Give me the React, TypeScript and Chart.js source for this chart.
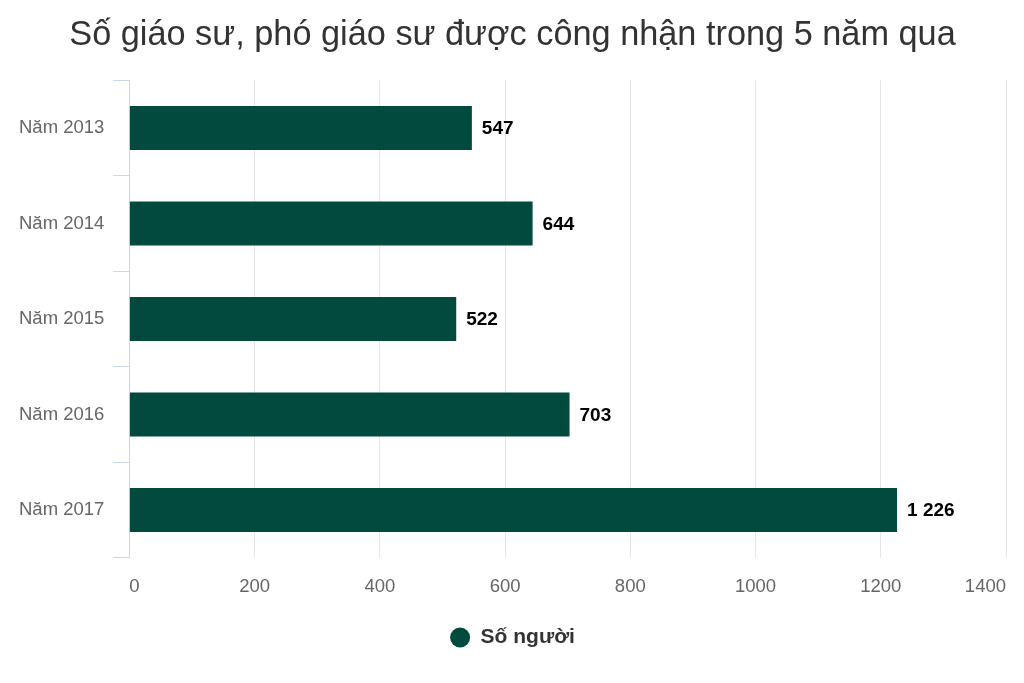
import { useEffect, useRef } from 'react'
import { Chart, registerables } from 'chart.js'

Chart.register(...registerables)

const years = ['Năm 2013', 'Năm 2014', 'Năm 2015', 'Năm 2016', 'Năm 2017']
const counts = [547, 644, 522, 703, 1226]
const seriesName = 'Số người'
const titleText = 'Số giáo sư, phó giáo sư được công nhận trong 5 năm qua'

const FONT = '"Liberation Sans", Arial, Helvetica, sans-serif'
const BAR = '#024a3e'

// space as thousands separator, like "1 226"
const fmt = (v: number) => String(v).replace(/\B(?=(\d{3})+(?!\d))/g, ' ')

const valueLabels = {
  id: 'valueLabels',
  afterDatasetsDraw(chart: Chart) {
    const ctx = chart.ctx
    const meta = chart.getDatasetMeta(0)
    ctx.save()
    ctx.font = `bold 19px ${FONT}`
    ctx.fillStyle = '#000'
    ctx.textAlign = 'left'
    ctx.textBaseline = 'middle'
    meta.data.forEach((bar: any, i: number) => {
      ctx.fillText(fmt(counts[i]), bar.x + 10, bar.y + 1)
    })
    ctx.restore()
  },
}

export default function App() {
  const ref = useRef<HTMLCanvasElement>(null)
  const inst = useRef<Chart | null>(null)

  useEffect(() => {
    if (!ref.current) return
    if (inst.current) inst.current.destroy()

    inst.current = new Chart(ref.current, {
      type: 'bar',
      data: {
        labels: years,
        datasets: [{
          label: seriesName,
          data: counts,
          backgroundColor: BAR,
          borderColor: BAR,
          borderWidth: 0,
          categoryPercentage: 1,
          barPercentage: 0.46,
        }],
      },
      options: {
        indexAxis: 'y',
        responsive: false,
        animation: false,
        layout: { padding: { left: 18, right: 17, top: 15, bottom: 25 } },
        plugins: {
          title: {
            display: true,
            text: titleText,
            color: '#333333',
            font: { family: FONT, size: 34.3, weight: 'normal' },
            padding: { top: 0, bottom: 24 },
          },
          legend: {
            position: 'bottom',
            labels: {
              usePointStyle: true,
              pointStyle: 'circle',
              pointStyleWidth: 20,
              boxHeight: 14.2,
              padding: 14,
              color: '#333333',
              font: { family: FONT, size: 21, weight: 'bold' },
            },
          },
          tooltip: { enabled: false },
        },
        scales: {
          x: {
            min: 0,
            max: 1400,
            afterFit: (axis: any) => { axis.height -= 3 },
            ticks: {
              stepSize: 200,
              align: 'inner',
              color: '#666666',
              padding: 18,
              font: { family: FONT, size: 18.5 },
              callback: (v: any) => String(v),
            },
            grid: { color: '#e6e6e6', drawTicks: false },
            border: { display: false },
          },
          y: {
            afterFit: (axis: any) => { axis.width -= 8 },
            ticks: {
              color: '#666666',
              padding: 9,
              font: { family: FONT, size: 18.5 },
            },
            grid: {
              drawOnChartArea: false,
              drawTicks: true,
              tickLength: 16,
              color: '#ccd6eb',
            },
            border: { color: '#ccd6eb', width: 1 },
          },
        },
      },
      plugins: [valueLabels],
    })

    return () => inst.current?.destroy()
  }, [])

  return (
    <div style={{ position: 'fixed', left: 0, top: 0, width: 1024, height: 683, background: '#fff' }}>
      <canvas ref={ref} width={1024} height={683} style={{ width: 1024, height: 683 }} />
    </div>
  )
}
